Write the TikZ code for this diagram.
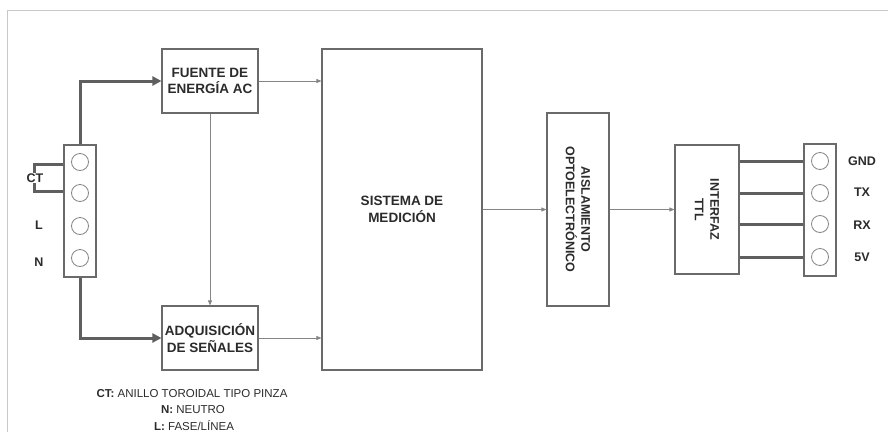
\documentclass[tikz,border=0pt]{standalone}
\usepackage{fontspec}
\setmainfont{Liberation Sans}
\usetikzlibrary{arrows.meta}
\definecolor{boxc}{HTML}{6A6A6A}
\definecolor{wirec}{HTML}{5F5F5F}
\definecolor{linec}{HTML}{858585}
\definecolor{txt}{HTML}{2B2B2B}
\definecolor{framec}{HTML}{C8C8C8}
\begin{document}
\begin{tikzpicture}[x=1pt,y=-1pt,
  blk/.style={draw=boxc, line width=1.1pt, fill=white, inner sep=0pt, text=txt, align=center,
    font=\bfseries\fontsize{13.5}{16.5}\selectfont},
  rotlbl/.style={rotate=-90, text=txt, align=center, inner sep=0pt,
    font=\bfseries\fontsize{12.5}{15.5}\selectfont},
  term/.style={draw=boxc, line width=1.1pt, fill=white, inner sep=0pt, minimum width=32pt, minimum height=132pt},
  circ/.style={circle, draw=linec, line width=0.8pt, minimum size=17pt, inner sep=0pt},
  lbl/.style={text=txt, inner sep=1pt, font=\bfseries\fontsize{12.5}{15}\selectfont},
  leg/.style={text=txt, inner sep=0pt, font=\fontsize{11.5}{14}\selectfont},
  thin/.style={draw=linec, line width=0.8pt, -{Triangle[length=5pt,width=4pt]}},
  wire/.style={draw=wirec, line width=3pt},
  thick/.style={wire, -{Triangle[length=9pt,width=9pt]}}
]
\useasboundingbox (0,0) rectangle (889,437);
% frame
\draw[framec, line width=1pt] (7,432) -- (7,10) -- (888,10);

% blocks
\node[blk, minimum width=96pt, minimum height=64pt] (fu) at (210,81) {FUENTE DE\\ENERGÍA AC};
\node[blk, minimum width=96pt, minimum height=64pt] (ad) at (210,338) {ADQUISICIÓN\\DE SEÑALES};
\node[blk, minimum width=160pt, minimum height=321pt] (si) at (402,209.5) {SISTEMA DE\\MEDICIÓN};
\node[blk, minimum width=62pt, minimum height=193pt] (ai) at (578,209.5) {};
\node[rotlbl] at (ai.center) {AISLAMIENTO\\OPTOELECTRÓNICO};
\node[blk, minimum width=64pt, minimum height=129pt] (tt) at (707,209.5) {};
\node[rotlbl] at (tt.center) {INTERFAZ\\TTL};

% terminal blocks
\node[term] (tl) at (80,211) {};
\node[circ] (l1) at (80,162) {};
\node[circ] (l2) at (80,193) {};
\node[circ] (l3) at (80,226) {};
\node[circ] (l4) at (80,258) {};
\node[term] (tr) at (820,210) {};
\node[circ] (r1) at (820,161) {};
\node[circ] (r2) at (820,193) {};
\node[circ] (r3) at (820,224) {};
\node[circ] (r4) at (820,257) {};

% thin arrows
\draw[thin] (fu.east) -- (fu.east -| si.west);
\draw[thin] (ad.east) -- (ad.east -| si.west);
\draw[thin] (fu.south) -- (ad.north);
\draw[thin] (si.east) -- (ai.west);
\draw[thin] (ai.east) -- (tt.west);

% thick wires
\draw[thick] (tl.north) |- (fu.west);
\draw[thick] (tl.south) |- (ad.west);
\draw[wire] ([yshift=-2pt]tl.west |- l1) -- ++(-29,0) coordinate (ctc) |- ([yshift=2pt]tl.west |- l2);
\foreach \i in {1,2,3,4} {
  \draw[wire] (tt.east |- r\i) -- (tr.west |- r\i);
}

% labels
\node[lbl, fill=white] (ct) at (35,178) {CT};
\node[lbl] (ll) at (39,225) {L};
\node[lbl] (ln) at (39,262) {N};
\node[lbl] (g) at (862,161) {GND};
\node[lbl] (tx) at (862,192) {TX};
\node[lbl] (rx) at (862,225) {RX};
\node[lbl] (v5) at (862,257) {5V};

% legend
\node[leg] (lg1) at (192,394) {\textbf{CT:} ANILLO TOROIDAL TIPO PINZA};
\node[leg] (lg2) at (193,410) {\textbf{N:} NEUTRO};
\node[leg] (lg3) at (194,426) {\textbf{L:} FASE/LÍNEA};
\end{tikzpicture}
\end{document}
